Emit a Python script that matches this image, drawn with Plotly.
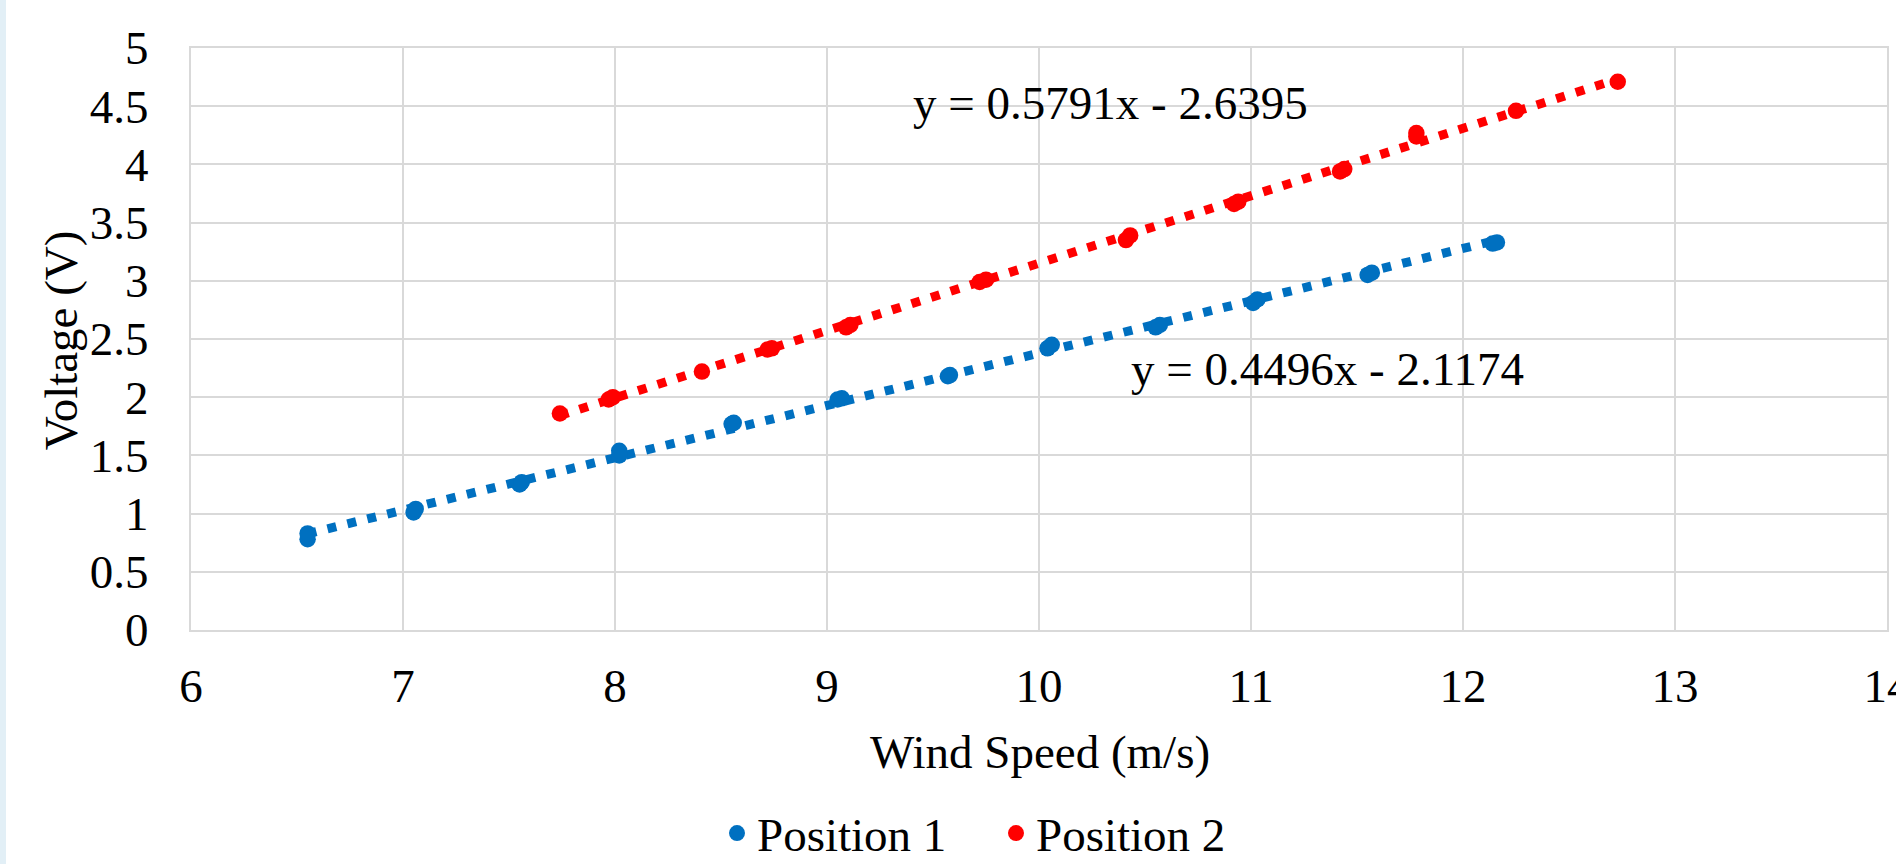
import plotly.graph_objects as go

# ---- data ----
pos1_wind = [6.55, 6.55, 7.05, 7.06, 7.55, 7.56, 8.02, 8.02, 8.55, 8.56, 9.05, 9.07,
             9.57, 9.58, 10.04, 10.06, 10.55, 10.57, 11.01, 11.03, 11.55, 11.57, 12.14, 12.16]
pos1_volt = [0.78, 0.83, 1.01, 1.04, 1.25, 1.27, 1.50, 1.54, 1.77, 1.78, 1.98, 1.99,
             2.18, 2.19, 2.42, 2.45, 2.60, 2.62, 2.81, 2.84, 3.05, 3.07, 3.32, 3.33]

pos2_wind = [7.74, 7.97, 7.99, 8.41, 8.72, 8.74, 9.09, 9.11, 9.72, 9.75, 10.41, 10.43,
             10.92, 10.94, 11.42, 11.44, 11.78, 11.78, 12.25, 12.73]
pos2_volt = [1.86, 1.98, 2.00, 2.22, 2.41, 2.42, 2.60, 2.62, 2.99, 3.01, 3.35, 3.39,
             3.66, 3.68, 3.94, 3.96, 4.24, 4.27, 4.46, 4.71]

series_names = ["Position 1", "Position 2"]
series_colors = ["#0070C0", "#FF0000"]
trend_slope = [0.4496, 0.5791]
trend_intercept = [-2.1174, -2.6395]
trend_labels = ["y = 0.4496x - 2.1174", "y = 0.5791x - 2.6395"]
trend_label_pos = [(10.425, 2.24), (9.396, 4.53)]

x_ticks = [6, 7, 8, 9, 10, 11, 12, 13, 14]
y_ticks = [0, 0.5, 1, 1.5, 2, 2.5, 3, 3.5, 4, 4.5, 5]
y_tick_text = ["0", "0.5", "1", "1.5", "2", "2.5", "3", "3.5", "4", "4.5", "5"]

FONT = "Liberation Serif"
FS = 47
GRID = "#D9D9D9"

fig = go.Figure()

all_x = [pos1_wind, pos2_wind]
all_y = [pos1_volt, pos2_volt]

# trendlines (dotted), computed from slope/intercept over the data range
for i in range(2):
    x0, x1 = min(all_x[i]), max(all_x[i])
    fig.add_trace(go.Scatter(
        x=[x0, x1],
        y=[trend_slope[i] * x0 + trend_intercept[i], trend_slope[i] * x1 + trend_intercept[i]],
        mode="lines",
        line=dict(color=series_colors[i], width=9, dash="9px,11.5px"),
        showlegend=False, hoverinfo="skip",
    ))

for i in range(2):
    fig.add_trace(go.Scatter(
        x=all_x[i], y=all_y[i], mode="markers", name=series_names[i],
        marker=dict(color=series_colors[i], size=16.5, line=dict(width=0)),
    ))

for i in range(2):
    fig.add_annotation(x=trend_label_pos[i][0], y=trend_label_pos[i][1], xref="x", yref="y",
                       text=trend_labels[i], showarrow=False, xanchor="left", yanchor="middle",
                       font=dict(family=FONT, size=FS, color="black"))

# axis titles
fig.add_annotation(x=0.5006, y=-0.2096, xref="paper", yref="paper", text="Wind Speed (m/s)",
                   showarrow=False, xanchor="center", yanchor="middle",
                   font=dict(family=FONT, size=FS, color="black"))
fig.add_annotation(x=-0.0766, y=0.498, xref="paper", yref="paper", text="Voltage (V)",
                   showarrow=False, textangle=-90, xanchor="center", yanchor="middle",
                   font=dict(family=FONT, size=FS, color="black"))

# light strip on the far left edge
fig.add_shape(type="rect", xref="paper", yref="paper", x0=-191/1696, x1=-185/1696,
              y0=-234/582, y1=1 + 48/582, fillcolor="#E2EFF6", line=dict(width=0), layer="below")

fig.update_layout(
    width=1896, height=864,
    margin=dict(l=191, r=9, t=48, b=234, autoexpand=False),
    paper_bgcolor="white", plot_bgcolor="white",
    font=dict(family=FONT, size=FS, color="black"),
    legend=dict(orientation="h", xref="paper", yref="paper",
                x=(717 - 191) / 1696, y=(630 - 871) / 582, xanchor="left", yanchor="bottom",
                font=dict(family=FONT, size=FS, color="black"),
                entrywidth=234, bgcolor="rgba(0,0,0,0)"),
    xaxis=dict(range=[6, 14], tickvals=x_ticks, ticktext=[str(v) for v in x_ticks],
               showgrid=True, gridcolor=GRID, gridwidth=2, zeroline=False,
               showline=True, linecolor=GRID, linewidth=2, mirror=True,
               ticklabeloverflow="allow",
               ticks="", ticklabelstandoff=14, tickfont=dict(family=FONT, size=FS, color="black")),
    yaxis=dict(range=[0, 5], tickvals=y_ticks, ticktext=y_tick_text,
               showgrid=True, gridcolor=GRID, gridwidth=2, zeroline=False,
               showline=True, linecolor=GRID, linewidth=2, mirror=True,
               ticks="", ticklabelstandoff=31, tickfont=dict(family=FONT, size=FS, color="black")),
)

fig.write_html("out.html")
